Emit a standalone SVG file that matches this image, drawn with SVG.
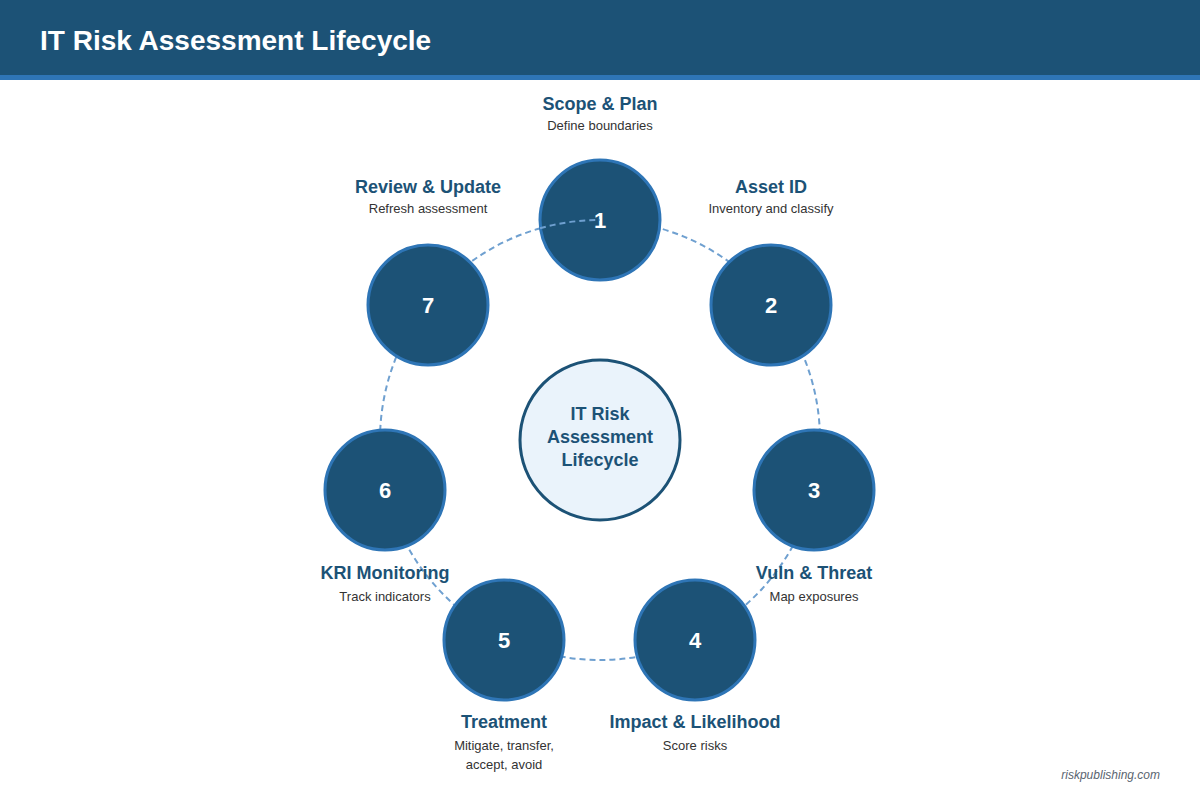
<svg xmlns="http://www.w3.org/2000/svg" width="1200" height="800" viewBox="0 0 1200 800">
<style>
.title{font-family:"Liberation Sans",Arial,sans-serif;font-weight:bold;font-size:28px;fill:#ffffff}
.node{fill:#1c5276;stroke:#2e75b6;stroke-width:3}
.num{font-family:"Liberation Sans",Arial,sans-serif;font-weight:bold;font-size:22px;fill:#ffffff;text-anchor:middle}
.lbl{font-family:"Liberation Sans",Arial,sans-serif;font-weight:bold;font-size:18px;fill:#1c5276;text-anchor:middle}
.sub{font-family:"Liberation Sans",Arial,sans-serif;font-size:13px;fill:#333333;text-anchor:middle}
.ctr{font-family:"Liberation Sans",Arial,sans-serif;font-weight:bold;font-size:18px;fill:#1c5276;text-anchor:middle}
.ring{fill:none;stroke:#6fa0d0;stroke-width:2;stroke-dasharray:6 4}
</style>
<rect x="0" y="0" width="1200" height="800" fill="#ffffff"/>
<rect x="0" y="0" width="1200" height="75" fill="#1c5276"/>
<rect x="0" y="75" width="1200" height="5" fill="#2e75b6"/>
<text class="title" x="40" y="50">IT Risk Assessment Lifecycle</text>
<g id="connectors">
<circle class="ring" cx="600" cy="440" r="220"/>
</g>
<g id="center">
<circle cx="600" cy="440" r="80" fill="#eaf3fb" stroke="#1c5276" stroke-width="3"/>
<text class="ctr" x="600" y="420">IT Risk</text>
<text class="ctr" x="600" y="443">Assessment</text>
<text class="ctr" x="600" y="466">Lifecycle</text>
</g>
<g id="node1"><circle class="node" cx="600" cy="220" r="60"/><text class="num" x="600" y="228">1</text>
<text class="lbl" x="600" y="110">Scope &amp; Plan</text><text class="sub" x="600" y="130">Define boundaries</text></g>
<g id="node2"><circle class="node" cx="771" cy="305" r="60"/><text class="num" x="771" y="313">2</text>
<text class="lbl" x="771" y="193">Asset ID</text><text class="sub" x="771" y="213">Inventory and classify</text></g>
<g id="node3"><circle class="node" cx="814" cy="490" r="60"/><text class="num" x="814" y="498">3</text>
<text class="lbl" x="814" y="579">Vuln &amp; Threat</text><text class="sub" x="814" y="601">Map exposures</text></g>
<g id="node4"><circle class="node" cx="695" cy="640" r="60"/><text class="num" x="695" y="648">4</text>
<text class="lbl" x="695" y="728">Impact &amp; Likelihood</text><text class="sub" x="695" y="750">Score risks</text></g>
<g id="node5"><circle class="node" cx="504" cy="640" r="60"/><text class="num" x="504" y="648">5</text>
<text class="lbl" x="504" y="728">Treatment</text><text class="sub" x="504" y="750">Mitigate, transfer,</text><text class="sub" x="504" y="769">accept, avoid</text></g>
<g id="node6"><circle class="node" cx="385" cy="490" r="60"/><text class="num" x="385" y="498">6</text>
<text class="lbl" x="385" y="579">KRI Monitoring</text><text class="sub" x="385" y="601">Track indicators</text></g>
<g id="node7"><circle class="node" cx="428" cy="305" r="60"/><text class="num" x="428" y="313">7</text>
<text class="lbl" x="428" y="193">Review &amp; Update</text><text class="sub" x="428" y="213">Refresh assessment</text></g>
<g id="connector-overlay">
<path class="ring" d="M540,228.3 A220,220 0 0 1 600,220"/>
</g>
<text x="1160" y="779" font-family="'Liberation Sans',Arial,sans-serif" font-size="12" font-style="italic" fill="#5a6470" text-anchor="end">riskpublishing.com</text>
</svg>
